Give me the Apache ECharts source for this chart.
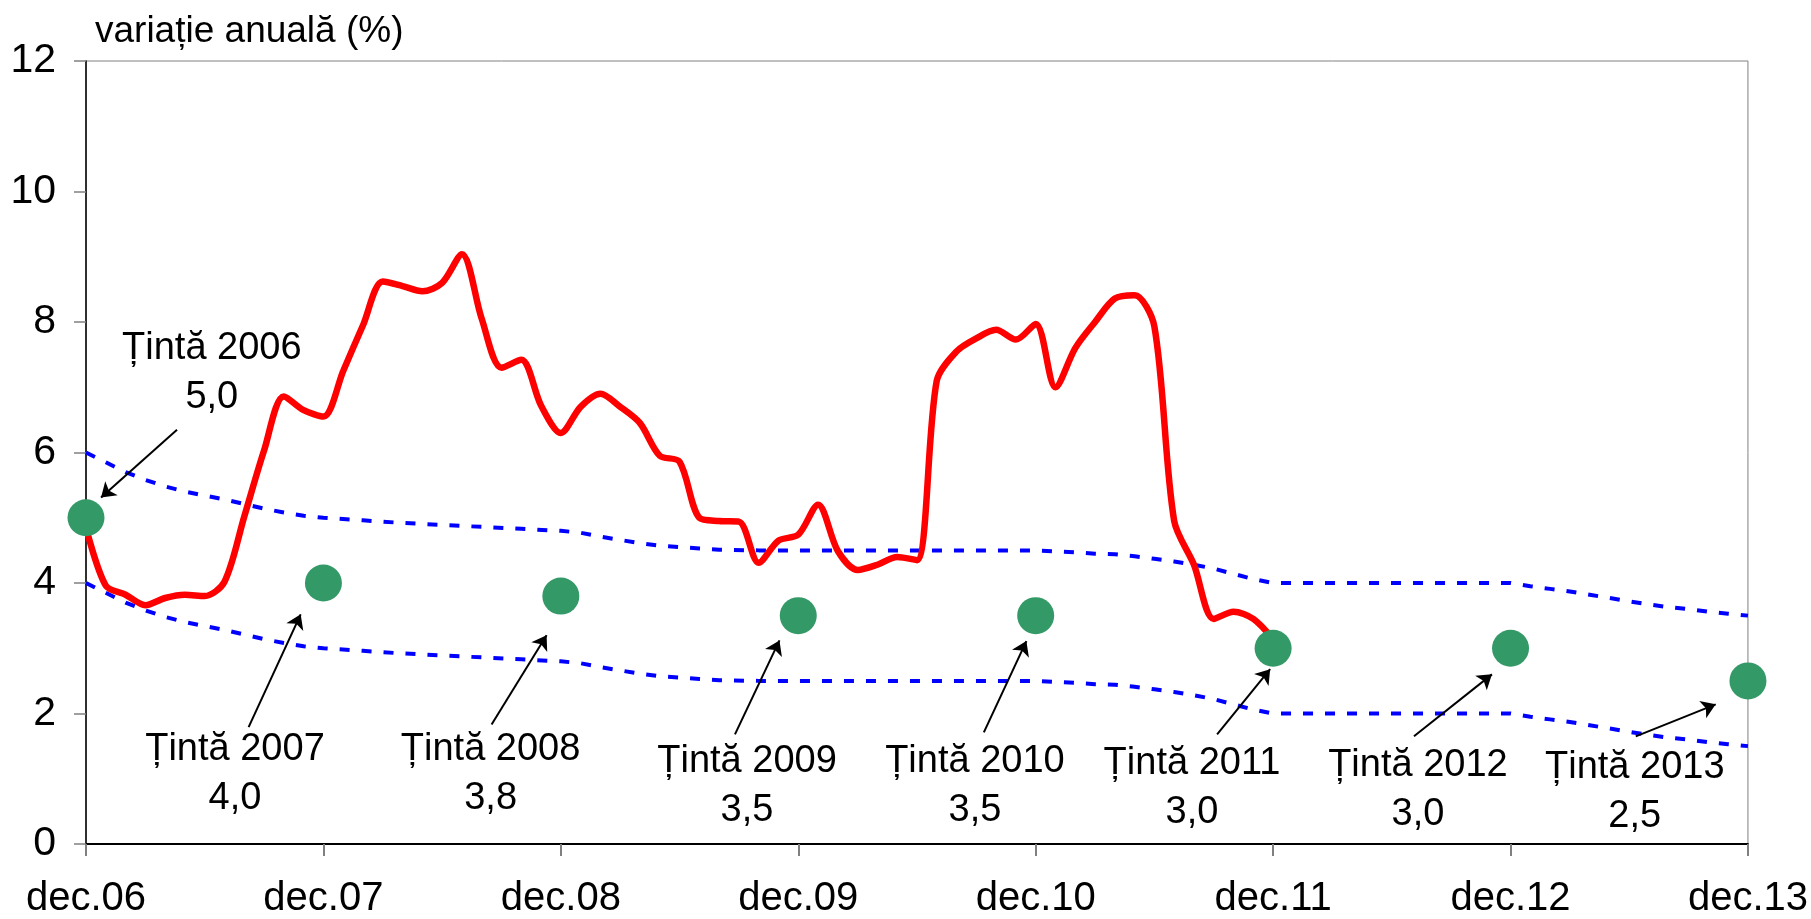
<!DOCTYPE html>
<html>
<head>
<meta charset="utf-8">
<script src="https://cdn.jsdelivr.net/npm/echarts@6/dist/echarts.min.js"></script>
<style>
html,body{margin:0;padding:0;background:#fff;}
#c{width:1811px;height:919px;}
</style>
</head>
<body>
<div id="c"></div>
<script>
// x positions are months since dec.06
const tickLabels = ['dec.06','dec.07','dec.08','dec.09','dec.10','dec.11','dec.12','dec.13'];
const yTitle = 'variație anuală (%)';

// Annual CPI inflation (monthly, dec.06 .. dec.11)
const inflation = [4.85,3.96,3.82,3.66,3.77,3.82,3.8,4.02,5.02,6.03,6.86,6.65,6.55,7.25,7.95,8.62,8.55,8.47,8.6,9.04,8.05,7.3,7.42,6.72,6.3,6.7,6.9,6.7,6.45,5.95,5.86,5.0,4.95,4.94,4.31,4.65,4.74,5.2,4.49,4.2,4.28,4.4,4.35,7.1,7.55,7.75,7.88,7.73,7.97,7.0,7.6,8.0,8.36,8.41,7.93,4.95,4.28,3.45,3.56,3.45,3.14];

// Variation band around target
const bandMonths = [0,1,2,3,4,5,6,7,8,9,10,11,12,14,16,18,20,22,24,25,26,27,28,29,30,31,32,34,36,48,50,51,52,53,54,55,56,57,58,59,60,72,73,74,75,76,77,78,79,80,81,82,83,84];
const bandUpper = [6.0,5.85,5.7,5.58,5.48,5.4,5.34,5.28,5.21,5.14,5.08,5.03,5.0,4.96,4.92,4.89,4.86,4.83,4.8,4.77,4.71,4.66,4.61,4.57,4.55,4.53,4.51,4.5,4.5,4.5,4.47,4.45,4.44,4.41,4.37,4.33,4.28,4.22,4.14,4.06,4.0,4.0,3.95,3.91,3.87,3.82,3.77,3.72,3.67,3.63,3.6,3.56,3.53,3.5];
const bandLower = [4.0,3.85,3.7,3.58,3.48,3.4,3.34,3.28,3.21,3.14,3.08,3.03,3.0,2.96,2.92,2.89,2.86,2.83,2.8,2.77,2.71,2.66,2.61,2.57,2.55,2.53,2.51,2.5,2.5,2.5,2.47,2.45,2.44,2.41,2.37,2.33,2.28,2.22,2.14,2.06,2.0,2.0,1.95,1.91,1.87,1.82,1.77,1.72,1.67,1.63,1.6,1.56,1.53,1.5];

// Targets
const targetMonths = [0,12,24,36,48,60,72,84];
const targetValues = [5.0,4.0,3.8,3.5,3.5,3.0,3.0,2.5];
const targetNames = ['Țintă 2006','Țintă 2007','Țintă 2008','Țintă 2009','Țintă 2010','Țintă 2011','Țintă 2012','Țintă 2013'];
const targetTexts = ['5,0','4,0','3,8','3,5','3,5','3,0','3,0','2,5'];

// Annotation label anchors (data coords: month, value)
const labelX = [6.36,7.53,20.45,33.41,44.93,55.9,67.32,78.28];
const labelY = [7.22,1.08,1.08,0.89,0.89,0.86,0.83,0.80];
// Arrow start / end (data coords)
const arrowFromX = [4.6,8.22,20.5,32.8,45.38,57.17,67.12,78.33];
const arrowFromY = [6.35,1.79,1.83,1.68,1.71,1.68,1.65,1.65];
const arrowToX = [0.76,10.85,23.28,35.05,47.53,59.85,71.06,82.37];
const arrowToY = [5.31,3.52,3.2,3.12,3.11,2.68,2.6,2.14];

const FONT = '"Liberation Sans", Arial, sans-serif';

const chart = echarts.init(document.getElementById('c'), null, {renderer:'canvas'});
chart.setOption({
  animation:false,
  backgroundColor:'#fff',
  title:{text:yTitle,left:90,top:8,textStyle:{fontFamily:FONT,fontSize:37,fontWeight:'normal',color:'#000'}},
  grid:{left:86,right:62,top:61,bottom:73,show:true,borderColor:'#808080',borderWidth:1,backgroundColor:'transparent'},
  xAxis:{type:'value',min:0,max:84,interval:12,
    axisLine:{show:true,onZero:false,lineStyle:{color:'#000',width:2}},
    axisTick:{show:true,length:12,lineStyle:{color:'#808080',width:2}},
    axisLabel:{margin:35,fontFamily:FONT,fontSize:40,color:'#000',formatter:v=>tickLabels[Math.round(v/12)]},
    splitLine:{show:false}},
  yAxis:{type:'value',min:0,max:12,interval:2,
    axisLine:{show:true,lineStyle:{color:'#000',width:1.5}},
    axisTick:{show:true,length:12,lineStyle:{color:'#808080',width:1.5}},
    axisLabel:{margin:30,fontFamily:FONT,fontSize:41,color:'#000'},
    splitLine:{show:false}},
  series:[
    {type:'line',data:bandMonths.map((m,i)=>[m,bandUpper[i]]),showSymbol:false,symbol:'none',
      lineStyle:{color:'#0000FF',width:4,type:[10,12],cap:'butt'},z:2},
    {type:'line',data:bandMonths.map((m,i)=>[m,bandLower[i]]),showSymbol:false,symbol:'none',
      lineStyle:{color:'#0000FF',width:4,type:[10,12],cap:'butt'},z:2},
    {type:'line',data:inflation.map((v,i)=>[i,v]),showSymbol:false,symbol:'none',smooth:0.3,
      lineStyle:{color:'#FF0000',width:6.5},z:3},
    {type:'scatter',data:targetMonths.map((m,i)=>[m,targetValues[i]]),symbol:'circle',symbolSize:37,clip:false,
      itemStyle:{color:'#339966',opacity:1},z:5,
      markLine:{silent:true,symbol:['none','arrow'],symbolSize:14,label:{show:false},
        lineStyle:{color:'#000',width:2,type:'solid',opacity:1},
        emphasis:{disabled:true},
        data:arrowFromX.map((x,i)=>[{coord:[x,arrowFromY[i]]},{coord:[arrowToX[i],arrowToY[i]]}])}},
    {type:'scatter',data:labelX.map((x,i)=>[x,labelY[i],i]),symbolSize:0,clip:false,silent:true,z:6,
      itemStyle:{opacity:1},
      label:{show:true,position:'inside',align:'center',verticalAlign:'middle',fontFamily:FONT,fontSize:38,color:'#000',lineHeight:49,
        formatter:p=>targetNames[p.data[2]]+'\n'+targetTexts[p.data[2]]}}
  ]
});
</script>
</body>
</html>
